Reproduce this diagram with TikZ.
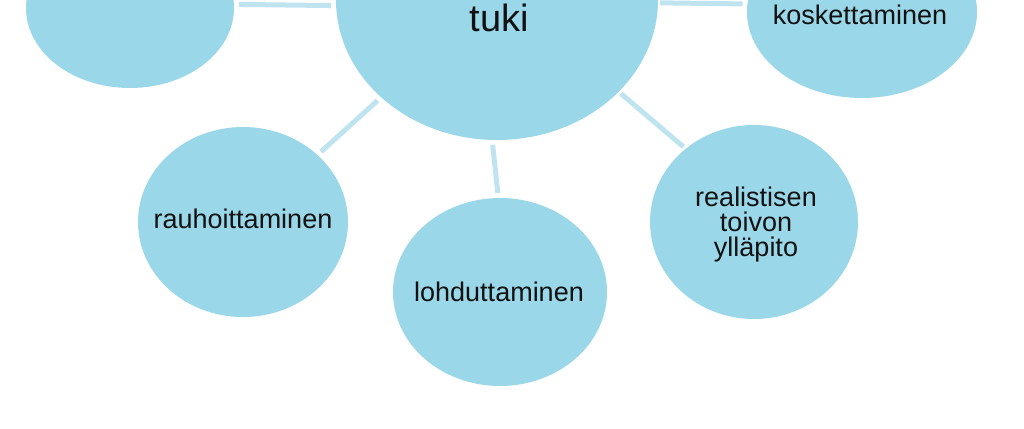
\documentclass[tikz,border=0pt]{standalone}
\usepackage{fontspec}
\setmainfont{Liberation Sans}
\usetikzlibrary{shapes.geometric}
\definecolor{bubble}{HTML}{9AD7E9}
\definecolor{linkc}{HTML}{C0E4EF}
\definecolor{txt}{HTML}{111111}
\tikzset{
  bub/.style={ellipse, fill=bubble, draw=none, inner sep=0pt, outer sep=0pt},
  link/.style={draw=linkc, line width=5pt, shorten <=5pt, shorten >=5pt},
  lbl/.style={anchor=base, inner sep=0pt, text=txt, font=\fontsize{27}{25}\selectfont, align=center},
  biglbl/.style={anchor=base, inner sep=0pt, text=txt, font=\fontsize{38}{40}\selectfont}
}
\begin{document}
\begin{tikzpicture}[x=1pt,y=-1pt]
\useasboundingbox (0,0) rectangle (1024,428);
\fill[white] (0,0) rectangle (1024,428);
% bubbles
\node[bub, minimum width=208pt, minimum height=160pt] (tl) at (130,8) {};
\node[bub, minimum width=322pt, minimum height=280pt] (c) at (497,0) {};
\node[bub, minimum width=230pt, minimum height=172pt] (k) at (862,12) {};
\node[bub, minimum width=210pt, minimum height=190pt] (rh) at (243,222) {};
\node[bub, minimum width=214pt, minimum height=188pt] (lo) at (500,292) {};
\node[bub, minimum width=208pt, minimum height=194pt] (re) at (754,222) {};
% connectors
\draw[link] (tl.2) -- (c.182);
\draw[link, shorten <=2pt] (c.-1.4) -- (k.176);
\draw[link] (c.220.6) -- (rh.42.3);
\draw[link] (c.268.4) -- (lo.91.7);
\draw[link, shorten <=3pt, shorten >=3pt] (c.-37.2) -- (re.133.8);
% labels
\node[biglbl] (tc) at (499,32) {tuki};
\node[lbl] (tk) at (860,25) {koskettaminen};
\node[lbl] (trh) at (243,228) {rauhoittaminen};
\node[lbl] (tlo) at (499,301) {lohduttaminen};
\node[lbl, anchor=north] (tre) at (756,187) {realistisen\\toivon\\ylläpito};
\end{tikzpicture}
\end{document}
